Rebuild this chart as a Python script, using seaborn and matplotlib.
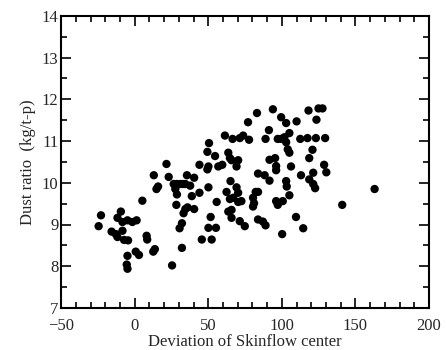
import pandas as pd
import seaborn as sns
import matplotlib.pyplot as plt
from matplotlib.ticker import MultipleLocator

# Werte
deviation = [-22.9, -24.5, -9.4, -11.7, -8.3, -4.9, -1.6, 1.3, -15.7, -12.8,
             -11.7, -8.3, -7.2, -4.5, -4.9, -5.4, -4.9, 0.7, 2.9, 8.1,
             8.5, 5.2, 12.6, 13.7, 13.0, 14.8, 15.9, 21.6, 23.1, 25.4,
             26.5, 28.7, 31.0, 32.8, 34.4, 27.6, 28.7, 28.3, 35.5, 37.7,
             38.8, 40.4, 34.4, 35.9, 33.2, 32.1, 30.5, 32.1, 40.4, 44.0,
             44.0, 45.6, 50.1, 49.4, 50.1, 49.4, 50.5, 51.6, 50.1, 52.3,
             55.2, 55.7, 54.6, 56.8, 59.5, 61.3, 62.4, 63.6, 64.7, 65.1,
             66.5, 65.8, 63.6, 65.8, 65.8, 64.7, 66.9, 69.2, 70.3, 69.2,
             70.3, 71.4, 73.7, 70.3, 72.5, 71.4, 74.8, 77.0, 77.7, 80.4,
             80.4, 81.1, 82.2, 83.8, 83.1, 83.8, 83.8, 87.1, 88.9, 88.3,
             91.6, 88.9, 91.2, 91.6, 93.9, 95.4, 96.1, 96.1, 96.1, 97.2,
             100.6, 97.2, 99.5, 101.7, 102.9, 99.5, 102.9, 104.0, 105.1, 105.1,
             102.9, 103.3, 105.1, 100.2, 106.2, 109.6, 110.0, 112.5, 113.0, 114.5,
             117.4, 118.1, 118.6, 120.8, 118.6, 121.3, 121.3, 122.6, 123.1, 123.5,
             124.9, 127.6, 129.4, 128.7, 130.2, 141.0, 163.0]
dust_ratio = [9.22, 8.96, 9.31, 9.16, 9.06, 9.10, 9.06, 9.10, 8.83, 8.77,
              8.70, 8.85, 8.63, 8.62, 8.25, 8.04, 7.94, 8.35, 8.27, 8.73,
              8.64, 9.57, 8.35, 8.41, 10.18, 9.85, 9.91, 10.45, 10.14, 8.02,
              9.97, 9.97, 9.97, 9.97, 9.97, 9.85, 9.72, 9.47, 10.18, 9.93,
              9.68, 10.12, 9.37, 9.41, 9.27, 9.03, 8.91, 8.44, 9.37, 9.76,
              10.43, 8.64, 9.89, 10.32, 10.39, 10.74, 10.95, 9.18, 8.92, 8.64,
              8.92, 9.54, 10.64, 10.39, 10.43, 11.13, 9.78, 10.72, 10.59, 10.04,
              11.05, 10.54, 9.31, 9.35, 9.16, 9.61, 9.64, 9.89, 9.76, 10.39,
              10.54, 11.07, 11.13, 9.54, 9.56, 9.08, 8.96, 11.45, 11.03, 9.64,
              9.43, 9.51, 9.78, 9.78, 11.67, 10.22, 9.12, 9.07, 8.98, 10.18,
              10.05, 11.05, 11.26, 10.55, 11.76, 10.59, 10.30, 10.40, 9.56, 9.47,
              9.56, 11.05, 11.05, 11.09, 11.43, 11.57, 10.97, 10.80, 10.72, 11.19,
              10.04, 9.91, 9.70, 8.77, 10.39, 9.18, 11.47, 11.05, 10.18, 8.91,
              11.07, 11.73, 10.59, 10.79, 10.08, 10.24, 9.97, 9.87, 11.07, 11.51,
              11.78, 11.78, 11.07, 10.43, 10.25, 9.47, 9.85]

df = pd.DataFrame({'deviation': deviation, 'dust': dust_ratio})

sns.set_style('ticks')
plt.rcParams['font.family'] = ['Liberation Serif', 'DejaVu Serif']

fig = plt.figure(figsize=(4.46, 3.5), dpi=100)
ax = fig.add_axes([0.137, 0.12, 0.825, 0.835])
sns.scatterplot(x='deviation', y='dust', data=df, color='black', s=36,
                edgecolor='none', ax=ax)

ax.set_xlim(-50, 200)
ax.set_ylim(7, 14)
ax.xaxis.set_major_locator(MultipleLocator(50))
ax.xaxis.set_minor_locator(MultipleLocator(10))
ax.yaxis.set_major_locator(MultipleLocator(1))
ax.yaxis.set_minor_locator(MultipleLocator(0.5))
ax.tick_params(which='both', direction='in', top=True, right=True,
               labelsize=12, color='black', width=1.2)
ax.tick_params(which='major', length=7, pad=2)
ax.tick_params(which='minor', length=4)
ax.tick_params(axis='x', which='major', pad=7)
for sp in ax.spines.values():
    sp.set_linewidth(1.5)
    sp.set_color('black')

ax.set_xlabel('Deviation of Skinflow center', fontsize=12, labelpad=0)
ax.set_ylabel('Dust ratio  (kg/t-p)', fontsize=12, labelpad=4)

plt.savefig('out.png', dpi=100)
